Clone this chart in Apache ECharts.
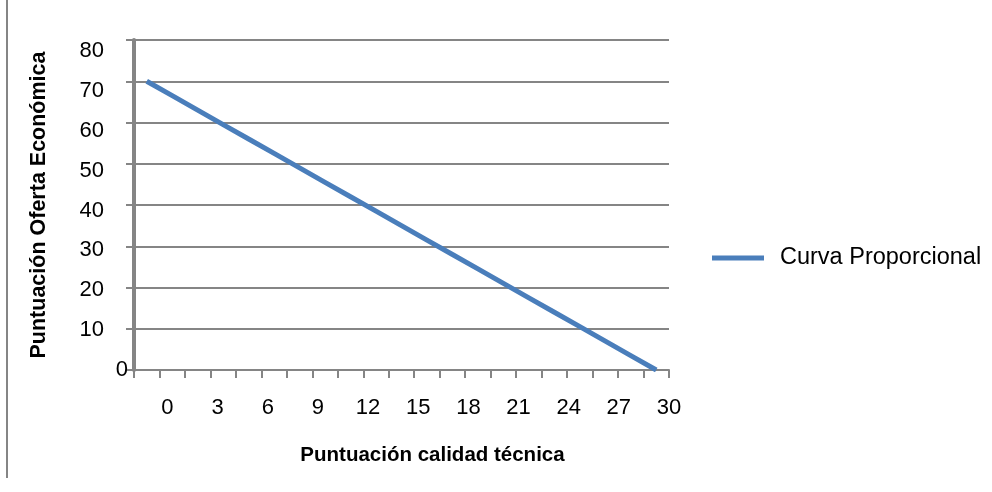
<!DOCTYPE html>
<html>
<head>
<meta charset="utf-8">
<script src="https://cdn.jsdelivr.net/npm/echarts@6/dist/echarts.min.js"></script>
<style>
html,body{margin:0;padding:0;background:#fff;}
#chart{width:992px;height:492px;}
</style>
</head>
<body>
<div id="chart"></div>
<script>
// Categories of the line (21 points)
const categories = ['0','1.5','3','4.5','6','7.5','9','10.5','12','13.5','15','16.5','18','19.5','21','22.5','24','25.5','27','28.5','30'];
// Series values
const curvaProporcional = [70, 66.5, 63, 59.5, 56, 52.5, 49, 45.5, 42, 38.5, 35, 31.5, 28, 24.5, 21, 17.5, 14, 10.5, 7, 3.5, 0];
// Tick labels
const xTickLabels = [0, 3, 6, 9, 12, 15, 18, 21, 24, 27, 30];
const yTickLabels = [0, 10, 20, 30, 40, 50, 60, 70, 80];

const seriesName = 'Curva Proporcional';
const xTitle = 'Puntuación calidad técnica';
const yTitle = 'Puntuación Oferta Económica';

const gray = '#858585';
const font = 'Liberation Sans, Arial, sans-serif';

const chart = echarts.init(document.getElementById('chart'), null, {renderer: 'canvas'});
chart.setOption({
  animation: false,
  backgroundColor: '#ffffff',
  textStyle: {fontFamily: font},
  grid: {left: 134, right: 323, top: 40, bottom: 122, containLabel: false, outerBoundsMode: 'none'},
  legend: {
    left: 707, top: 241,
    icon: 'rect', itemWidth: 52, itemHeight: 5,
    data: [seriesName],
    textStyle: {fontSize: 23.5, color: '#000', fontFamily: font, padding: [10, 0, 0, 11]}
  },
  graphic: [{
    type: 'line', shape: {x1: 7, y1: 0, x2: 7, y2: 478},
    style: {stroke: gray, lineWidth: 2}, silent: true
  }],
  xAxis: [{
    type: 'category',
    data: categories,
    boundaryGap: true,
    axisLine: {show: true, onZero: false, lineStyle: {color: gray, width: 2}},
    axisTick: {show: true, interval: 0, length: 8, lineStyle: {color: gray, width: 2}},
    axisLabel: {show: false},
    splitLine: {show: false}
  }, {
    type: 'value',
    position: 'bottom',
    min: -2, max: 30,
    axisLine: {show: false, onZero: false},
    axisTick: {show: false},
    splitLine: {show: false},
    axisLabel: {
      customValues: xTickLabels,
      fontSize: 22, color: '#000', margin: 27, fontFamily: font
    },
    name: xTitle,
    nameLocation: 'middle',
    nameGap: 75,
    nameTextStyle: {fontSize: 20.5, fontWeight: 'bold', color: '#000', fontFamily: font, padding: [0, 0, 0, 62]}
  }],
  yAxis: [{
    type: 'value',
    position: 'left',
    min: 0, max: 80, interval: 10,
    axisLine: {show: false, onZero: false},
    axisTick: {show: true, length: 8, lineStyle: {color: gray, width: 2}},
    axisLabel: {show: false},
    splitLine: {show: true, lineStyle: {color: gray, width: 2}},
    name: yTitle,
    nameLocation: 'middle',
    nameGap: 84,
    nameTextStyle: {fontSize: 21.5, fontWeight: 'bold', color: '#000', fontFamily: font}
  }, {
    type: 'value',
    position: 'left',
    min: 0, max: 82.76,
    axisLine: {show: true, onZero: false, lineStyle: {color: gray, width: 4}},
    axisTick: {show: false},
    splitLine: {show: false},
    axisLabel: {
      customValues: yTickLabels,
      fontSize: 22, color: '#000', margin: 6, fontFamily: font,
      formatter: function (v) { return v === 0 ? '{z|0}' : '{p|' + v + '}'; },
      rich: {
        z: {fontSize: 22, color: '#000', fontFamily: font},
        p: {fontSize: 22, color: '#000', fontFamily: font, padding: [0, 24, 0, 0]}
      }
    }
  }],
  series: [{
    name: seriesName,
    type: 'line',
    xAxisIndex: 0,
    yAxisIndex: 0,
    data: curvaProporcional,
    symbol: 'none',
    lineStyle: {width: 5, color: '#4A7EBB'},
    itemStyle: {color: '#4A7EBB'}
  }]
});
</script>
</body>
</html>
